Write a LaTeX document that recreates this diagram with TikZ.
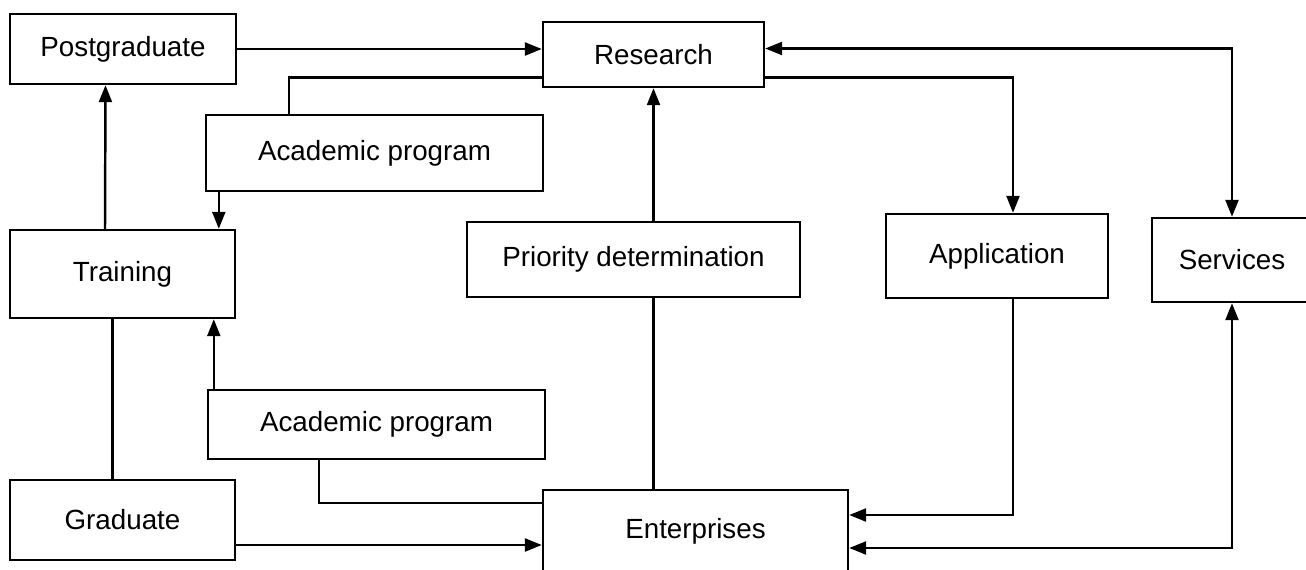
\documentclass[tikz,border=0pt]{standalone}
\usepackage{fontspec}
\setmainfont{Liberation Sans}
\usetikzlibrary{arrows.meta}
\begin{document}
\begin{tikzpicture}[x=0.02cm, y=-0.02cm,
    box/.style={draw, line width=1.4pt, inner sep=0pt, font=\fontsize{15.8}{19}\selectfont},
    every path/.style={line width=1.4pt},
    >={Triangle[length=0.34cm, width=0.26cm]}]
            \useasboundingbox (0,0) rectangle (1306,569);

            \node[box, minimum width=4.52cm, minimum height=1.4cm] (PG) at (123,49) {Postgraduate};
            \node[box, minimum width=4.42cm, minimum height=1.3cm] (RS) at (653.5,54.5) {Research};
            \node[box, minimum width=6.74cm, minimum height=1.52cm] (AA) at (374.5,153) {Academic program};
            \node[box, minimum width=4.5cm, minimum height=1.76cm] (TR) at (122.5,274) {Training};
            \node[box, minimum width=6.66cm, minimum height=1.5cm] (PD) at (633.5,259.5) {Priority determination};
            \node[box, minimum width=4.44cm, minimum height=1.68cm] (AL) at (997,256) {Application};
            \node[box, minimum width=3.2cm, minimum height=1.68cm] (SV) at (1232,260) {Services};
            \node[box, minimum width=6.74cm, minimum height=1.38cm] (AB) at (376.5,424.5) {Academic program};
            \node[box, minimum width=4.5cm, minimum height=1.6cm] (GR) at (122.5,520) {Graduate};
            \node[box, minimum width=6.1cm, minimum height=1.64cm] (EN) at (695.5,531) {Enterprises};

            \draw[->] (PG.east) -- (PG.east -| RS.west);
            \draw[->] ([xshift=-0.35cm]TR.north) -- ([xshift=-0.35cm]PG.south);
            \draw ([xshift=1.68cm]AA.north west) |- ([yshift=-0.46cm]RS.west);
            \draw[->] ([xshift=0.28cm]AA.south west) -- ([xshift=0.28cm]AA.south west |- TR.north);
            \draw[->] ([xshift=0.14cm]AB.north west) -- ([xshift=0.14cm]AB.north west |- TR.south);
            \draw ([xshift=-0.2cm]TR.south) -- ([xshift=-0.2cm]GR.north);
            \draw[->] ([yshift=-0.5cm]GR.east) -- ([yshift=-0.5cm]GR.east -| EN.west);
            \draw ([xshift=2.24cm]AB.south west) |- ([yshift=0.56cm]EN.west);

            \draw[->] (RS.south |- PD.north) -- (RS.south);
            \draw (RS.south |- PD.south) -- (RS.south |- EN.north);

            \draw[->] ([yshift=-0.46cm]RS.east) -| ([xshift=0.32cm]AL.north);
            \draw[<->] ([yshift=0.12cm]RS.east) -| (SV.north);
            \draw[->] ([xshift=0.32cm]AL.south) |- ([yshift=0.32cm]EN.east);
            \draw[<->] ([yshift=-0.34cm]EN.east) -| (SV.south);
        \end{tikzpicture}
\end{document}
